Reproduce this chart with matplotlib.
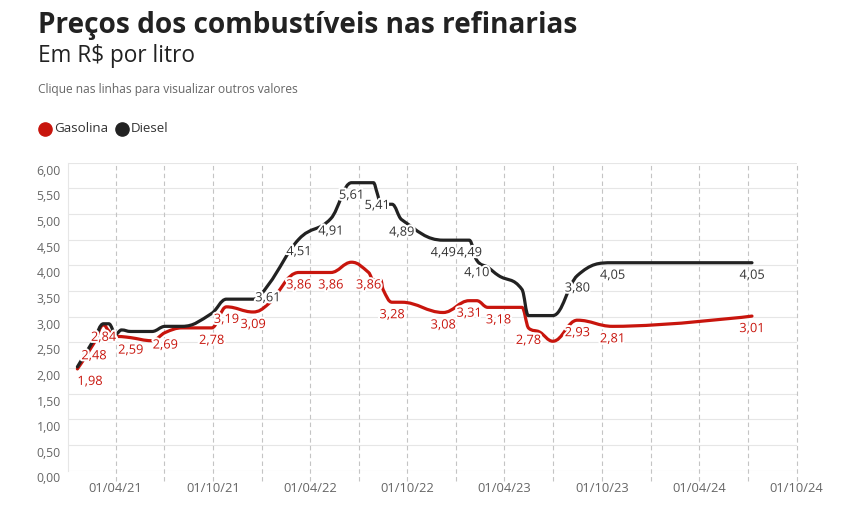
import numpy as np
import pandas as pd
import matplotlib
matplotlib.use("Agg")
import matplotlib.pyplot as plt
import matplotlib.dates as mdates
from matplotlib.path import Path
from matplotlib.patches import PathPatch
from matplotlib.transforms import ScaledTranslation
import matplotlib.patheffects as pe

plt.rcParams['font.family'] = ['Open Sans', 'DejaVu Sans']

# dates with a price change (both series share them)
dates = ["2021-01-19", "2021-02-19", "2021-03-09", "2021-03-19", "2021-04-01",
         "2021-04-12", "2021-04-29", "2021-06-08", "2021-07-03", "2021-08-04",
         "2021-09-28", "2021-10-26", "2021-12-15", "2022-01-12", "2022-03-11",
         "2022-05-10", "2022-06-18", "2022-07-20", "2022-07-29", "2022-08-05",
         "2022-08-12", "2022-08-16", "2022-09-02", "2022-09-20", "2022-12-07",
         "2023-01-25", "2023-02-08", "2023-03-01", "2023-03-21", "2023-05-04",
         "2023-05-16", "2023-06-06", "2023-07-01", "2023-08-16", "2023-10-21",
         "2024-07-09"]
gasolina = [1.98, 2.48, 2.84, 2.72, 2.62, 2.61, 2.59, 2.53, 2.69, 2.78,
            2.78, 3.19, 3.09, 3.24, 3.86, 3.86, 4.06, 3.86, 3.71, 3.71,
            3.71, 3.53, 3.28, 3.28, 3.08, 3.31, 3.31, 3.18, 3.18, 3.18,
            2.78, 2.70, 2.52, 2.93, 2.81, 3.01]
diesel = [2.02, 2.55, 2.86, 2.86, 2.66, 2.74, 2.71, 2.71, 2.81, 2.81,
          3.06, 3.34, 3.34, 3.61, 4.51, 4.91, 5.61, 5.61, 5.61, 5.41,
          5.19, 5.19, 5.19, 4.89, 4.49, 4.49, 4.10, 3.96, 3.80, 3.53,
          3.02, 3.02, 3.02, 3.80, 4.05, 4.05]
# which points show a value label (the others were hidden by overlap)
gas_labels = [0, 1, 2, 6, 8, 10, 11, 12, 14, 15, 17, 22, 24, 25, 28, 30, 33, 34, 35]
diesel_labels = [13, 14, 15, 16, 19, 23, 24, 25, 26, 33, 34, 35]

RED = "#c8150d"
DARK = "#222222"
GRAY = "#666666"


def spline_path(x, y):
    # bezier spline like the one used by the original chart (smoothing 1.5)
    sm = 1.5
    den = sm + 1
    n = len(x)
    verts = [(x[0], y[0])]
    codes = [Path.MOVETO]
    right = (x[0], y[0])
    for i in range(1, n):
        px, py = x[i], y[i]
        if i < n - 1:
            lx, ly = x[i - 1], y[i - 1]
            nx, ny = x[i + 1], y[i + 1]
            lcx = (sm * px + lx) / den
            lcy = (sm * py + ly) / den
            rcx = (sm * px + nx) / den
            rcy = (sm * py + ny) / den
            if rcx != lcx:
                corr = (rcy - lcy) * (rcx - px) / (rcx - lcx) + py - rcy
                lcy += corr
                rcy += corr
            if lcy > ly and lcy > py:
                lcy = max(ly, py)
                rcy = 2 * py - lcy
            elif lcy < ly and lcy < py:
                lcy = min(ly, py)
                rcy = 2 * py - lcy
            if rcy > ny and rcy > py:
                rcy = max(ny, py)
                lcy = 2 * py - rcy
            elif rcy < ny and rcy < py:
                rcy = min(ny, py)
                lcy = 2 * py - rcy
            left = (lcx, lcy)
            new_right = (rcx, rcy)
        else:
            left = (px, py)
            new_right = (px, py)
        verts += [right, left, (px, py)]
        codes += [Path.CURVE4] * 3
        right = new_right
    return Path(verts, codes)


xd = mdates.date2num(pd.to_datetime(dates))

fig = plt.figure(figsize=(8.61, 5.16), dpi=100)
ax = fig.add_axes([67.8 / 861, 1 - 470.5 / 516, (796.7 - 67.8) / 861, (470.5 - 162.7) / 516])

ax.set_xlim(mdates.date2num(pd.Timestamp("2021-01-01")), mdates.date2num(pd.Timestamp("2024-10-01")))
ax.set_ylim(0, 6)

# grid
yt = np.arange(0, 6.01, 0.5)
ax.set_yticks(yt)
ax.set_yticklabels([("%.2f" % v).replace(".", ",") for v in yt])
for v in yt:
    ax.axhline(v, color="#e6e6e6", lw=0.8, zorder=0)
quarters = pd.date_range("2021-04-01", "2024-10-01", freq="QS")
for q in quarters:
    ax.axvline(mdates.date2num(q), ymin=-0.033, ymax=1, color="#c4c4c4", lw=0.8,
               dashes=(4, 3), zorder=0, clip_on=False)
xt = pd.date_range("2021-04-01", "2024-10-01", freq="6MS")
ax.set_xticks(mdates.date2num(xt))
ax.set_xticklabels([d.strftime("%d/%m/%y") for d in xt])

for s in ["top", "right", "bottom"]:
    ax.spines[s].set_visible(False)
ax.spines["left"].set_color("#e6e6e6")
ax.spines["left"].set_linewidth(0.8)
ax.tick_params(axis="both", length=0, colors=GRAY)
ax.tick_params(axis="y", labelsize=8.8, pad=5)
ax.tick_params(axis="x", labelsize=9.3, pad=8)
for lab in ax.get_yticklabels():
    lab.set_transform(lab.get_transform() + ScaledTranslation(0, -0.07, fig.dpi_scale_trans))

# lines
ax.add_patch(PathPatch(spline_path(xd, gasolina), fill=False, edgecolor=RED, lw=2.3,
                       capstyle="round", joinstyle="round", zorder=3))
ax.add_patch(PathPatch(spline_path(xd, diesel), fill=False, edgecolor=DARK, lw=2.3,
                       capstyle="round", joinstyle="round", zorder=4))

# value labels
halo = [pe.withStroke(linewidth=3, foreground="white")]
off = ScaledTranslation(0, -0.06, fig.dpi_scale_trans)
for i in gas_labels:
    ax.text(xd[i], gasolina[i], ("%.2f" % gasolina[i]).replace(".", ","),
            ha="left" if i == 0 else "center", va="top", fontsize=9.2, color=RED,
            transform=ax.transData + off, path_effects=halo, zorder=6)
for i in diesel_labels:
    ax.text(xd[i], diesel[i], ("%.2f" % diesel[i]).replace(".", ","),
            ha="center", va="top", fontsize=9.2, color="#333333",
            transform=ax.transData + off, path_effects=halo, zorder=6)

# titles
fig.text(38 / 861, 1 - 26 / 516, "Preços dos combustíveis nas refinarias", fontsize=20.2,
         fontweight="bold", color="#222222", va="center")
fig.text(38 / 861, 1 - 56 / 516, "Em R$ por litro", fontsize=16.3, color="#222222", va="center")
fig.text(38 / 861, 1 - 90 / 516, "Clique nas linhas para visualizar outros valores", fontsize=8.65,
         color=GRAY, va="center")

# legend
fig.lines.append(plt.Line2D([45 / 861], [1 - 129 / 516], marker="o", ms=9.5, color=RED,
                            transform=fig.transFigure))
fig.text(54 / 861, 1 - 129 / 516, "Gasolina", fontsize=9.6, color="#333333", va="center")
fig.lines.append(plt.Line2D([122 / 861], [1 - 129 / 516], marker="o", ms=9.5, color=DARK,
                            transform=fig.transFigure))
fig.text(131 / 861, 1 - 129 / 516, "Diesel", fontsize=9.6, color="#333333", va="center")

fig.savefig("out.png", dpi=100)
